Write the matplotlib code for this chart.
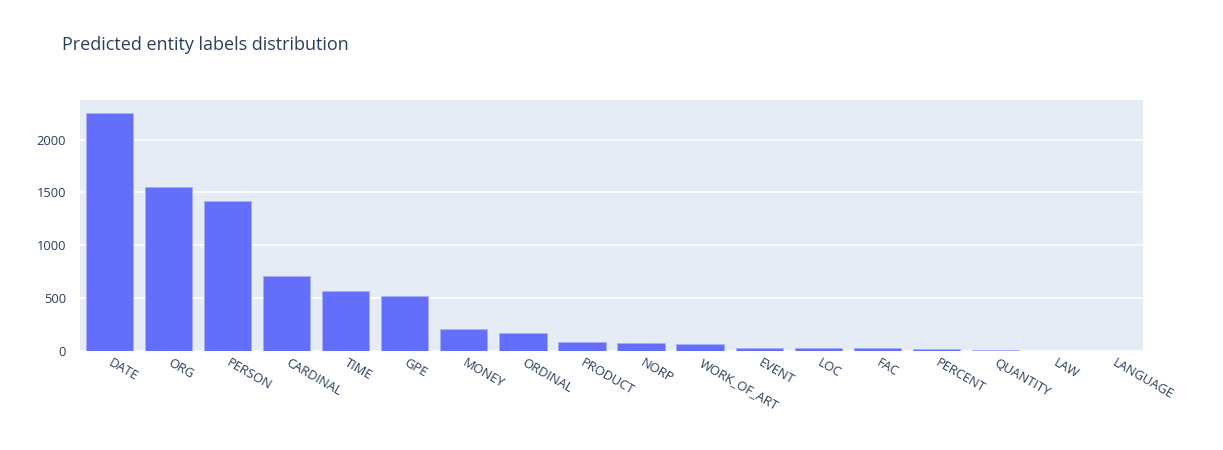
import matplotlib
matplotlib.use("Agg")
import matplotlib.pyplot as plt

# entity label counts
labels = ['DATE', 'ORG', 'PERSON', 'CARDINAL', 'TIME', 'GPE', 'MONEY', 'ORDINAL',
          'PRODUCT', 'NORP', 'WORK_OF_ART', 'EVENT', 'LOC', 'FAC', 'PERCENT',
          'QUANTITY', 'LAW', 'LANGUAGE']
counts = [2256, 1550, 1418, 709, 567, 520, 208, 171,
          82, 72, 70, 32, 32, 25, 22,
          10, 4, 1]

plt.rcParams['font.family'] = ['Open Sans', 'DejaVu Sans']
txt = '#2a3f5f'

fig = plt.figure(figsize=(12.23, 4.5), dpi=100)
ax = fig.add_axes([80/1223, 1-351/450, (1143-80)/1223, (351-100)/450])
ax.set_facecolor('#E5ECF6')
x = range(len(labels))
ax.bar(x, counts, width=0.8, color='#636EFA', edgecolor='#A8AEFC', linewidth=0.6, zorder=3)
ax.set_xlim(-0.5, len(labels) - 0.5)
ax.set_ylim(0, 2375)
ax.set_yticks([0, 500, 1000, 1500, 2000])
ax.grid(axis='y', color='white', linewidth=1.2, zorder=0)
ax.set_axisbelow(True)
for s in ax.spines.values():
    s.set_visible(False)
ax.tick_params(axis='both', length=0, colors=txt, labelsize=9.3)
ax.tick_params(axis='y', pad=10)
ax.set_xticks(list(x))
ax.set_xticklabels(labels, rotation=-30, ha='left', va='center', rotation_mode='anchor')
ax.tick_params(axis='x', pad=8)

fig.text(62/1223, 1-45/450, 'Predicted entity labels distribution', fontsize=13,
         color=txt, va='center', ha='left')

fig.savefig('out.png', dpi=100)
